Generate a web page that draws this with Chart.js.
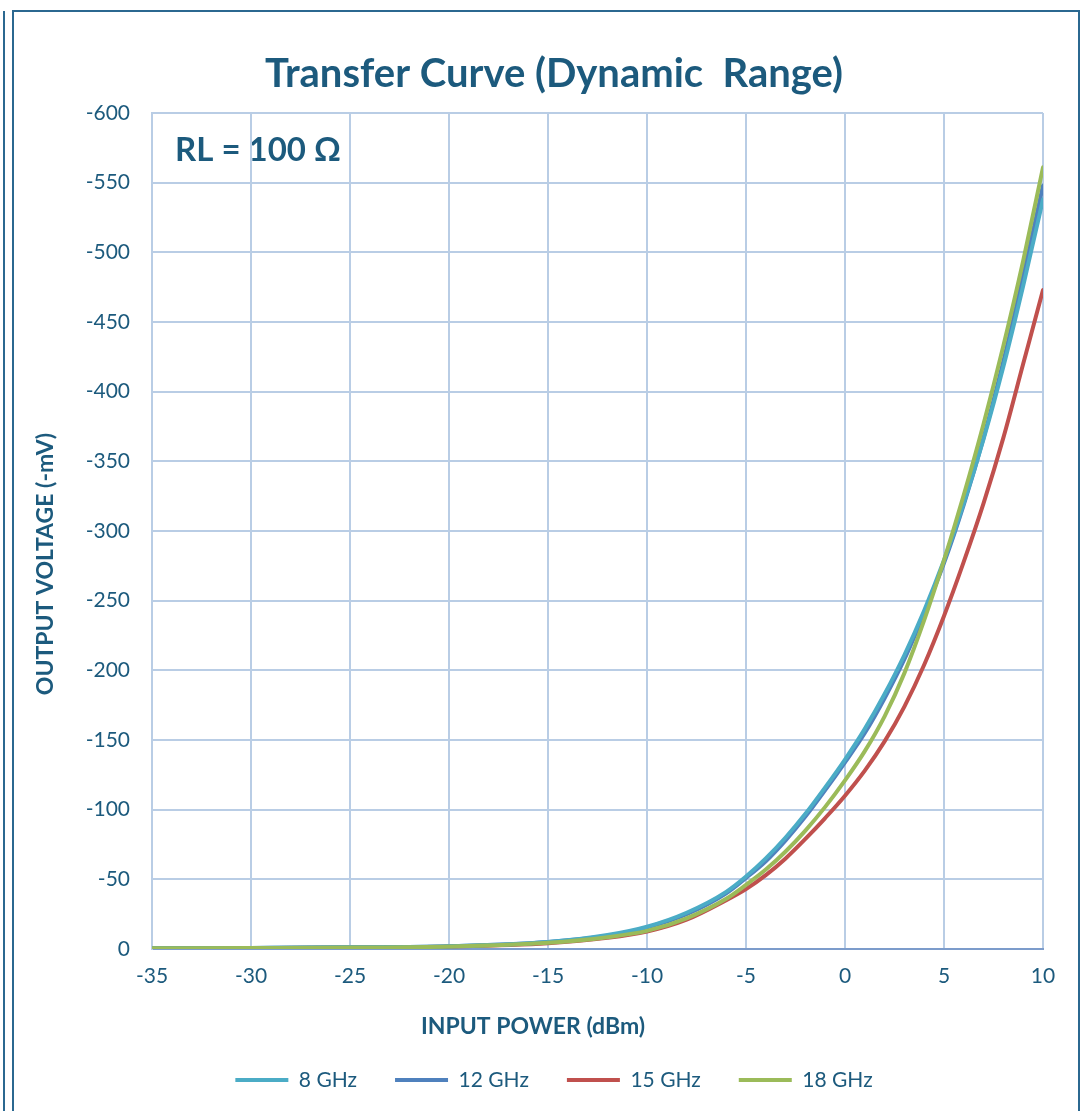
<!DOCTYPE html>
<html>
<head>
<meta charset="utf-8">
<script src="https://cdn.jsdelivr.net/npm/chart.js@4"></script>
<style>
  body { margin: 0; background: #fff; }
  #wrap { position: relative; width: 1081px; height: 1111px; overflow: hidden; }
  .rule { position: absolute; left: 3px; top: 11px; width: 2px; height: 1100px; background: #2b6890; }
  .box { position: absolute; left: 12px; top: 10px; width: 1064px; height: 1120px; border: 2px solid #2b6890; }
  canvas { position: absolute; left: 0; top: 0; }
</style>
</head>
<body>
<div id="wrap">
  <div class="rule"></div>
  <div class="box"></div>
  <canvas id="transferChart" width="1081" height="1111"></canvas>
</div>
<script>
const inputPower = [-35, -30, -25, -20, -15, -12, -10, -8, -6, -5, -4, -3, -2, -1, 0, 1, 2, 3, 4, 5, 6, 7, 8, 9, 10];
const v8GHz  = [-0.5, -0.8, -1.2, -2, -5, -10, -16, -26, -41, -52, -65, -80, -97, -116, -136, -158, -183, -211, -243, -279, -320, -366, -418, -476, -538];
const v12GHz = [-0.5, -0.8, -1.2, -2, -5, -9.5, -15.5, -25, -40, -51, -63, -78, -95, -114, -134, -155, -180, -208, -241, -277, -319, -367, -422, -483, -548];
const v15GHz = [-0.5, -0.7, -1, -1.8, -4.2, -8, -12.5, -21, -35, -43, -53, -65, -79, -94, -110, -128, -149, -174, -204, -239, -278, -320, -367, -420, -473];
const v18GHz = [-0.5, -0.7, -1, -1.8, -4.5, -8.5, -13, -22, -36, -46, -57, -70, -85, -102, -121, -142, -167, -198, -236, -279, -326, -377, -433, -494, -561];

const seriesNames = ['8 GHz', '12 GHz', '15 GHz', '18 GHz'];
const seriesColors = ['#4bacc6', '#4f81bd', '#c0504d', '#9bbb59'];

const textColor = '#1c5a7d';
const gridColor = '#b9cde5';

function points(values) {
    return inputPower.map((x, i) => ({ x: x, y: values[i] }));
}

// axis titles and the RL note are drawn on the canvas at fixed spots
const extraText = {
    id: 'extraText',
    beforeDraw(chart) {
        const ctx = chart.ctx;
        ctx.save();
        ctx.fillStyle = textColor;
        ctx.font = 'bold 33px Lato';
        ctx.textBaseline = 'middle';
        ctx.fillText('RL = 100 \u03A9', 175, 150);
        ctx.restore();
    },
    afterDraw(chart) {
        const ctx = chart.ctx;
        ctx.save();
        ctx.fillStyle = textColor;
        ctx.font = 'bold 23px Lato';
        ctx.textAlign = 'center';
        ctx.textBaseline = 'middle';
        ctx.fillText('INPUT POWER (dBm)', 533, 1027);
        ctx.translate(46, 564);
        ctx.rotate(-Math.PI / 2);
        ctx.fillText('OUTPUT VOLTAGE (-mV)', 0, 0);
        ctx.restore();
    }
};

const allSeries = [v8GHz, v12GHz, v15GHz, v18GHz];
const drawOrder = [1, 2, 3, 0];

new Chart(document.getElementById('transferChart'), {
    type: 'line',
    data: {
        datasets: allSeries.map((vals, i) => ({
            label: seriesNames[i],
            data: points(vals),
            borderColor: seriesColors[i],
            backgroundColor: seriesColors[i],
            borderWidth: 4,
            borderCapStyle: 'round',
            pointRadius: 0,
            cubicInterpolationMode: 'monotone',
            fill: false,
            order: drawOrder[i]
        }))
    },
    options: {
        responsive: false,
        animation: false,
        layout: {
            padding: { left: 65, right: 38, top: 0, bottom: 10.5 }
        },
        scales: {
            x: {
                type: 'linear',
                min: -35,
                max: 10,
                ticks: { stepSize: 5, color: textColor, padding: 15, font: { family: 'Lato', size: 21 } },
                grid: { color: gridColor, lineWidth: 2, drawTicks: false },
                border: { color: '#7c9ccb', width: 2 },
                afterFit(scale) { scale.height = 82.5; }
            },
            y: {
                min: -600,
                max: 0,
                reverse: true,
                ticks: { stepSize: 50, color: textColor, padding: 22, font: { family: 'Lato', size: 21 } },
                grid: { color: gridColor, lineWidth: 2, drawTicks: false },
                border: { color: gridColor, width: 2 },
                afterFit(scale) { scale.width = 87; }
            }
        },
        plugins: {
            title: {
                display: true,
                text: 'Transfer Curve (Dynamic  Range)',
                color: textColor,
                font: { family: 'Lato', size: 40, weight: 'bold' },
                padding: { top: 50, bottom: 15 }
            },
            legend: {
                position: 'bottom',
                labels: {
                    color: textColor,
                    font: { family: 'Lato', size: 21 },
                    usePointStyle: true,
                    pointStyle: 'line',
                    pointStyleWidth: 53,
                    padding: 38,
                    sort: (a, b) => a.datasetIndex - b.datasetIndex
                }
            },
            tooltip: { enabled: false }
        }
    },
    plugins: [extraText]
});
</script>
</body>
</html>
